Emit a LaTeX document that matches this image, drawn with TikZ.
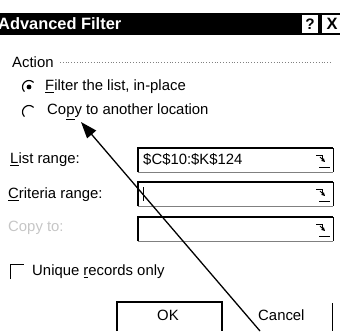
\documentclass[tikz,border=0pt]{standalone}
\usepackage{fontspec}
\setmainfont{Liberation Sans}
\usetikzlibrary{arrows.meta}

\tikzset{
  lbl/.style={anchor=west,inner sep=0pt,font=\fontsize{12.7}{15}\selectfont},
  boxline/.style={line width=1.1pt},
  pointer/.style={line width=1.1pt,-{Triangle[length=14pt,width=10pt]}}
}

% small range button inside an entry field
\newcommand\rangeicon[2]{%
  \draw[line width=0.8pt] (#1-6,#2-5) -- ++(6,0) -- ++(0,4);
  \draw[line width=0.8pt,-{Triangle[length=3pt,width=3pt]}] (#1-2,#2-3) -- ++(5,5);
  \draw[line width=0.8pt] (#1-3,#2+7) -- ++(11,0);
}

\begin{document}
\begin{tikzpicture}[x=0.03cm,y=-0.03cm]
  \useasboundingbox (0,0) rectangle (340,331);
  % title bar
  \fill[black] (0,13) rectangle (340,35);
  \node[lbl,text=white,font=\bfseries\fontsize{14}{16}\selectfont] (title) at (-2,24) {Advanced Filter};
  \fill[white] (302,15) rectangle (318,33);
  \fill[white] (322,15) rectangle (340,33);
  \node[font=\bfseries\fontsize{13}{15}\selectfont,inner sep=0pt] (help) at (310,24) {?};
  \node[font=\bfseries\fontsize{14}{16}\selectfont,inner sep=0pt] (close) at (332,24) {X};

  % action group
  \node[lbl] (action) at (12,62) {Action};
  \draw[gray,dotted] (60,62) -- (330,62);
  \draw[line width=1pt] (29,87) ++(135:6.5) arc[start angle=135,end angle=315,radius=6.5];
  \fill (29,87) circle (2.4);
  \node[lbl] (inplace) at (45,87) {\underline{F}ilter the list, in-place};
  \draw[line width=1pt] (29,112) ++(135:6.5) arc[start angle=135,end angle=315,radius=6.5];
  \node[lbl] (another) at (47,112) {Co\underline{p}y to another location};

  % ranges
  \node[lbl] (listlbl) at (10,160) {\underline{L}ist range:};
  \node[lbl] (critlbl) at (8,195) {\underline{C}riteria range:};
  \node[lbl,text=gray!45] (copylbl) at (8,228) {Copy to:};
  \foreach \y in {148,182,217} {
    \draw[line width=0.6pt,gray] (138,\y+24) -- (333,\y+24);
    \draw[line width=0.8pt] (333,\y) -- (333,\y+24);
    \draw[boxline] (138,\y+24) -- (138,\y) -- (333,\y);
    \rangeicon{322}{\y+12}
  }
  \node[lbl] (listval) at (143,160) {\$C\$10:\$K\$124};
  \draw[line width=0.6pt] (143,187) -- (143,201);

  % option and buttons
  \draw[line width=0.8pt] (10,279) -- (10,264) -- (24,264);
  \node[lbl] (unique) at (32,272) {Unique \underline{r}ecords only};
  \draw[boxline] (117,331) -- (117,302) -- (222,302) -- (222,331);
  \node[lbl] (ok) at (157,315) {OK};
  \node[lbl] (cancel) at (258,315) {Cancel};
  \draw[line width=0.8pt] (332,303) -- (332,331);

  % pointer
  \coordinate (tip) at (81,122);
  \coordinate (tail) at (260,331);
  \draw[pointer] (tail) -- (tip);
\end{tikzpicture}
\end{document}
